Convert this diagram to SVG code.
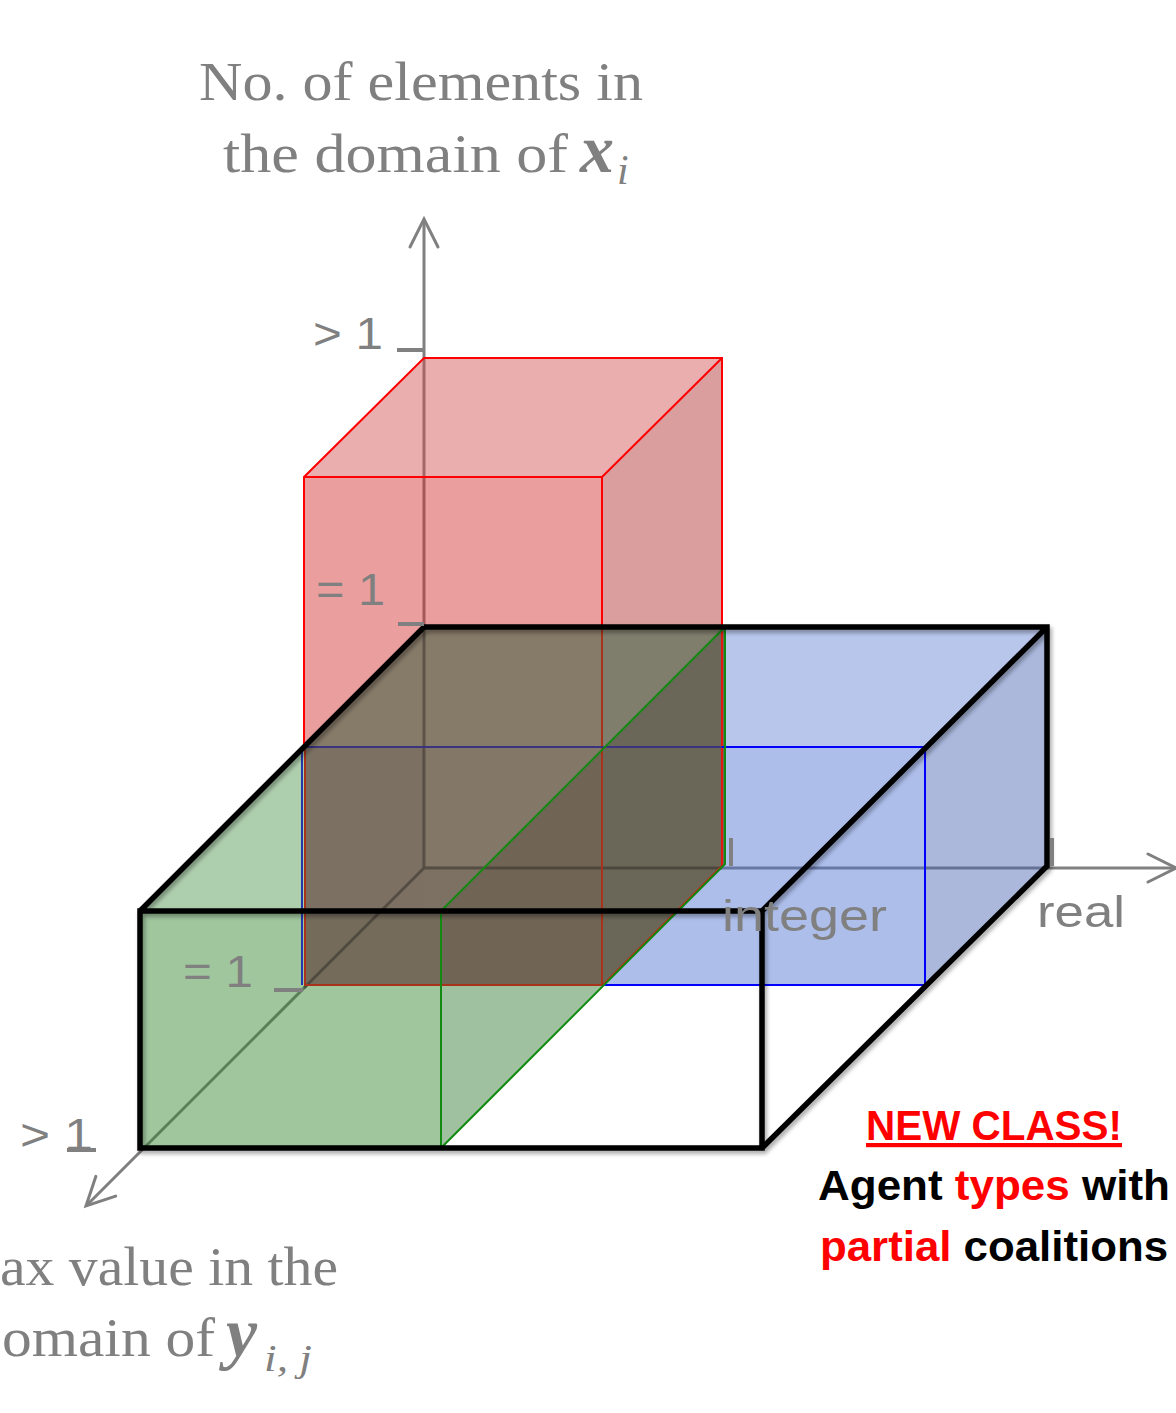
<svg xmlns="http://www.w3.org/2000/svg" width="1176" height="1413" viewBox="0 0 1176 1413">
<style>
.ax{stroke:#808080;stroke-width:3;fill:none}
.tick{stroke:#808080;stroke-width:4;fill:none}
.lbl{font-family:"Liberation Sans",Arial,sans-serif;font-size:44px;fill:#808080}
.ser{font-family:"Liberation Serif","Times New Roman",serif;font-size:55px;fill:#808080}
.mi{font-family:"Liberation Serif","Times New Roman",serif;font-style:italic;fill:#808080}
.rT{fill:#D14B4B;fill-opacity:.45}
.rF{fill:#D32727;fill-opacity:.45}
.rR{fill:#AF2727;fill-opacity:.45}
.bT{fill:#6380D5;fill-opacity:.45}
.bF{fill:#496ED2;fill-opacity:.45}
.bR{fill:#4461B1;fill-opacity:.45}
.gT{fill:#4B944B;fill-opacity:.45}
.gF{fill:#2C8028;fill-opacity:.45}
.gR{fill:#2A752A;fill-opacity:.45}
.note{font-family:"Liberation Sans",Arial,sans-serif;font-weight:bold;font-size:42px}
</style>
<defs>
<marker id="arr" viewBox="-32 -18 36 36" markerWidth="36" markerHeight="36" refX="0" refY="0" orient="auto" markerUnits="userSpaceOnUse">
<path d="M-28,-14 L0,0 L-28,14" fill="none" stroke="#808080" stroke-width="3" stroke-linecap="round"/>
</marker>
<filter id="sh" x="-5%" y="-5%" width="110%" height="110%">
<feDropShadow dx="2" dy="3" stdDeviation="2" flood-color="#000" flood-opacity="0.35"/>
</filter>
</defs>
<rect width="1176" height="1413" fill="#fff"/>

<g id="connectors">
<line class="ax" x1="424" y1="868" x2="424" y2="219" marker-end="url(#arr)"/>
<line class="ax" x1="424" y1="868" x2="1176" y2="868" marker-end="url(#arr)"/>
<line class="ax" x1="424" y1="868" x2="86" y2="1206" marker-end="url(#arr)"/>
</g>

<g id="red-box">
<polygon class="rT" points="304,477 424,358 722,358 602,477"/>
<polygon class="rF" points="304,477 602,477 602,985 304,985"/>
<polygon class="rR" points="602,477 722,358 722,866 602,985"/>
</g>
<g id="blue-box">
<polygon class="bT" points="304,747 424,627 1047,627 925,747"/>
<polygon class="bF" points="304,747 925,747 925,985 304,985"/>
<polygon class="bR" points="925,747 1047,627 1047,866 925,985"/>
</g>
<g id="green-box">
<polygon class="gT" points="140,911 424,627 724,627 441,911"/>
<polygon class="gF" points="140,911 441,911 441,1148 140,1148"/>
<polygon class="gR" points="441,911 724,627 724,864 441,1148"/>
</g>

<g id="overlap">
<polygon fill="#867A68" points="304,747 424,627 602,627 602,747"/>
<polygon fill="#7F7D6B" points="602,627 724,627 602,750"/>
<polygon fill="#6A6758" points="724,627 724,866 602,987 602,750"/>
<polygon fill="#7B7061" points="304,747 424,747 424,911 304,911"/>
<polygon fill="#837868" points="424,747 602,747 602,750 486,866 424,866"/>
<polygon fill="#7D7163" points="424,866 486,866 441,911 424,911"/>
<polygon fill="#746B5B" points="304,911 441,911 441,985 304,985"/>
<polygon fill="#706455" points="602,750 602,985 441,985 441,911"/>
<path d="M424,627 L424,868 L722,868 M424,868 L304,988" fill="none" stroke="#282320" stroke-opacity="0.45" stroke-width="3"/>
</g>

<g id="edges">
<path d="M304,747 L304,477 L424,358 L722,358 L722,627 M304,477 L602,477 L602,627 M602,477 L722,358" fill="none" stroke="#FF0000" stroke-width="2"/>
<path d="M305,747 L305,985 L602,985 L602,627" fill="none" stroke="#A8321A" stroke-width="2"/>
<path d="M722,627 L722,866 L603,985" fill="none" stroke="#E01A12" stroke-width="2"/>
<path d="M722,747 L925,747 L925,985 L603,985" fill="none" stroke="#0000FF" stroke-width="2"/>
<path d="M302,747 L722,747" fill="none" stroke="#3A3480" stroke-width="2"/>
<path d="M302,747 L302,985" fill="none" stroke="#2038B0" stroke-width="2"/>
<path d="M441,911 L441,1148 M441,911 L725,627 L725,864 L441,1148" fill="none" stroke="#128A12" stroke-width="2"/>
</g>

<g id="black-box" filter="url(#sh)">
<path d="M140,911 L762,911 L762,1148 L140,1148 Z M140,911 L424,627 L1047,627 L1047,866 L762,1148 M762,911 L1047,627" fill="none" stroke="#000" stroke-width="5.5" stroke-linejoin="miter" stroke-miterlimit="2"/>
</g>

<g id="ticks">
<line class="tick" x1="397" y1="350" x2="424" y2="350"/>
<line class="tick" x1="398" y1="624" x2="424" y2="624"/>
<line class="tick" x1="274" y1="990" x2="303" y2="990"/>
<line class="tick" x1="67" y1="1150" x2="96" y2="1150"/>
<line class="tick" x1="731" y1="838" x2="731" y2="866"/>
<line class="tick" x1="1052" y1="838" x2="1052" y2="866"/>
</g>

<g id="labels">
<text class="lbl" x="313" y="349" textLength="70" lengthAdjust="spacingAndGlyphs">&gt; 1</text>
<text class="lbl" x="316" y="605" textLength="69" lengthAdjust="spacingAndGlyphs">= 1</text>
<text class="lbl" x="183" y="987" textLength="70" lengthAdjust="spacingAndGlyphs">= 1</text>
<text class="lbl" x="20" y="1150" textLength="73" lengthAdjust="spacingAndGlyphs">&gt; 1</text>
<text class="lbl" x="722" y="931" font-size="46" textLength="165" lengthAdjust="spacingAndGlyphs">integer</text>
<text class="lbl" x="1037" y="927" font-size="46" textLength="88" lengthAdjust="spacingAndGlyphs">real</text>
</g>

<g id="y-axis-title">
<text class="ser" x="199" y="100" textLength="444" lengthAdjust="spacingAndGlyphs">No. of elements in</text>
<text class="ser" x="223" y="172" textLength="345" lengthAdjust="spacingAndGlyphs">the domain of</text>
<text class="mi" x="580" y="172" font-size="68" font-weight="bold">x</text>
<text class="mi" x="617" y="184" font-size="42">i</text>
</g>

<g id="depth-axis-title">
<text class="ser" x="0" y="1285" textLength="338" lengthAdjust="spacingAndGlyphs">ax value in the</text>
<text class="ser" x="2" y="1356" textLength="213" lengthAdjust="spacingAndGlyphs">omain of</text>
<text class="mi" x="226" y="1356" font-size="70" font-weight="bold">y</text>
<text class="mi" x="264" y="1371" font-size="38" textLength="48" lengthAdjust="spacingAndGlyphs">i, j</text>
</g>

<g id="note">
<text class="note" x="866" y="1140" fill="#FF0000" text-decoration="underline" textLength="256" lengthAdjust="spacingAndGlyphs">NEW CLASS!</text>
<text class="note" x="818" y="1200" textLength="352" lengthAdjust="spacingAndGlyphs"><tspan fill="#000">Agent </tspan><tspan fill="#FF0000">types</tspan><tspan fill="#000"> with</tspan></text>
<text class="note" x="820" y="1261" textLength="348" lengthAdjust="spacingAndGlyphs"><tspan fill="#FF0000">partial</tspan><tspan fill="#000"> coalitions</tspan></text>
</g>
</svg>
